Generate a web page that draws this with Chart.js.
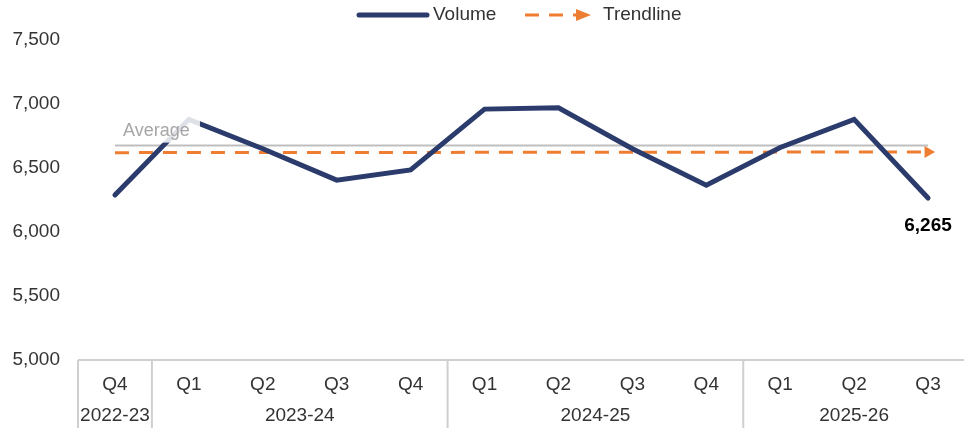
<!DOCTYPE html>
<html>
<head>
<meta charset="utf-8">
<script src="https://cdn.jsdelivr.net/npm/chart.js@4.4.1/dist/chart.umd.min.js"></script>
<style>
  html, body { margin: 0; padding: 0; overflow: hidden; background: #fff; width: 964px; height: 428px; }
  #frame { position: relative; width: 964px; height: 428px; overflow: hidden; }
  canvas { display: block; position: absolute; left: 0; top: 0; }
</style>
</head>
<body>
<div id="frame"><canvas id="volumeChart" width="972" height="428"></canvas></div>
<script>
const quarters = ['Q4', 'Q1', 'Q2', 'Q3', 'Q4', 'Q1', 'Q2', 'Q3', 'Q4', 'Q1', 'Q2', 'Q3'];
const fiscalYears = ['2022-23', '2023-24', '2023-24', '2023-24', '2023-24', '2024-25', '2024-25', '2024-25', '2024-25', '2025-26', '2025-26', '2025-26'];
const volume = [6290, 6880, 6650, 6405, 6485, 6960, 6970, 6650, 6365, 6660, 6880, 6265];
const trendStartEnd = [6620, 6625];
const averageVolume = 6675;
const yRange = [5000, 7500];
const yStep = 500;

const NAVY = '#2a3b6c';
const ORANGE = '#ed7d31';
const FONT = '"Liberation Sans", Arial, sans-serif';

const last = quarters.length - 1;
// trend and average only need their two end points, the gaps get spanned
const trendData = quarters.map((q, i) => i === 0 ? trendStartEnd[0] : (i === last ? trendStartEnd[1] : null));
const averageData = quarters.map((q, i) => (i === 0 || i === last) ? averageVolume : null);

const fmt = v => v.toLocaleString('en-US');

// x axis frame, fiscal year row, legend and text labels
const extrasPlugin = {
    id: 'extras',
    afterDatasetsDraw(chart) {
        const ctx = chart.ctx;
        const area = chart.chartArea;
        const x = chart.scales.x;
        const y = chart.scales.y;
        const half = (x.getPixelForValue(1) - x.getPixelForValue(0)) / 2;
        ctx.save();

        // "Average" label sits on a whitish box over the lines
        const avgY = y.getPixelForValue(averageVolume);
        ctx.fillStyle = 'rgba(255,255,255,0.85)';
        ctx.fillRect(x.getPixelForValue(0) + 3, avgY - 32, 82, 29);
        ctx.font = '18px ' + FONT;
        ctx.fillStyle = '#a6a6a6';
        ctx.textAlign = 'left';
        ctx.textBaseline = 'middle';
        ctx.fillText('Average', x.getPixelForValue(0) + 8, avgY - 15);

        // value of the latest quarter
        ctx.font = 'bold 19px ' + FONT;
        ctx.fillStyle = '#000';
        ctx.textAlign = 'center';
        ctx.fillText(fmt(volume[last]), x.getPixelForValue(last), y.getPixelForValue(volume[last]) + 28);

        // axis line and year dividers
        ctx.strokeStyle = '#cfcfcf';
        ctx.lineWidth = 2;
        ctx.beginPath();
        ctx.moveTo(area.left, area.bottom);
        ctx.lineTo(area.right, area.bottom);
        ctx.stroke();

        ctx.font = '19px ' + FONT;
        ctx.fillStyle = '#333';
        let start = 0;
        for (let i = 1; i <= quarters.length; i++) {
            if (i === quarters.length || fiscalYears[i] !== fiscalYears[start]) {
                const left = x.getPixelForValue(start) - half;
                const right = x.getPixelForValue(i - 1) + half;
                ctx.beginPath();
                ctx.moveTo(left, area.bottom);
                ctx.lineTo(left, chart.height);
                ctx.stroke();
                ctx.fillText(fiscalYears[start], (left + right) / 2, area.bottom + 56);
                start = i;
            }
        }

        // legend
        const ly = 15;
        ctx.lineCap = 'round';
        ctx.strokeStyle = NAVY;
        ctx.lineWidth = 5;
        ctx.beginPath();
        ctx.moveTo(359, ly);
        ctx.lineTo(427, ly);
        ctx.stroke();
        ctx.textAlign = 'left';
        ctx.fillStyle = '#333';
        ctx.fillText('Volume', 433, ly);

        ctx.lineCap = 'butt';
        ctx.strokeStyle = ORANGE;
        ctx.lineWidth = 3;
        ctx.setLineDash([14, 10]);
        ctx.beginPath();
        ctx.moveTo(525, ly);
        ctx.lineTo(578, ly);
        ctx.stroke();
        ctx.setLineDash([]);
        ctx.fillStyle = ORANGE;
        ctx.beginPath();
        ctx.moveTo(576, ly - 6);
        ctx.lineTo(591, ly);
        ctx.lineTo(576, ly + 6);
        ctx.closePath();
        ctx.fill();
        ctx.fillStyle = '#333';
        ctx.fillText('Trendline', 603, ly);

        ctx.restore();
    }
};

window.onload = function () {
    const ctx = document.getElementById('volumeChart').getContext('2d');
    new Chart(ctx, {
        type: 'line',
        data: {
            labels: quarters,
            datasets: [{
                label: 'Volume',
                data: volume,
                borderColor: NAVY,
                borderWidth: 5,
                borderCapStyle: 'round',
                pointRadius: 0,
                tension: 0
            }, {
                label: 'Trendline',
                data: trendData,
                spanGaps: true,
                borderColor: ORANGE,
                borderWidth: 3,
                borderDash: [14, 10],
                pointStyle: 'triangle',
                pointRotation: 90,
                pointRadius: quarters.map((q, i) => i === last ? 7 : 0),
                pointBackgroundColor: ORANGE,
                pointBorderWidth: 0
            }, {
                label: 'Average',
                data: averageData,
                spanGaps: true,
                borderColor: '#bfbfbf',
                borderWidth: 2,
                pointRadius: 0
            }]
        },
        options: {
            responsive: false,
            animation: false,
            layout: { padding: { top: 40, right: 0, left: 0, bottom: 0 } },
            plugins: {
                legend: { display: false },
                tooltip: { enabled: false }
            },
            scales: {
                x: {
                    offset: true,
                    grid: { display: false },
                    border: { display: false },
                    ticks: {
                        color: '#333',
                        font: { family: FONT, size: 19 },
                        padding: 5,
                        maxRotation: 0
                    },
                    afterFit: s => { s.height = 68; }
                },
                y: {
                    min: yRange[0],
                    max: yRange[1],
                    grid: { display: false, drawTicks: false },
                    border: { display: false },
                    ticks: {
                        stepSize: yStep,
                        color: '#333',
                        font: { family: FONT, size: 19 },
                        padding: 18,
                        callback: v => fmt(v)
                    },
                    afterFit: s => { s.width = 78; }
                }
            }
        },
        plugins: [extrasPlugin]
    });
};
</script>
</body>
</html>
